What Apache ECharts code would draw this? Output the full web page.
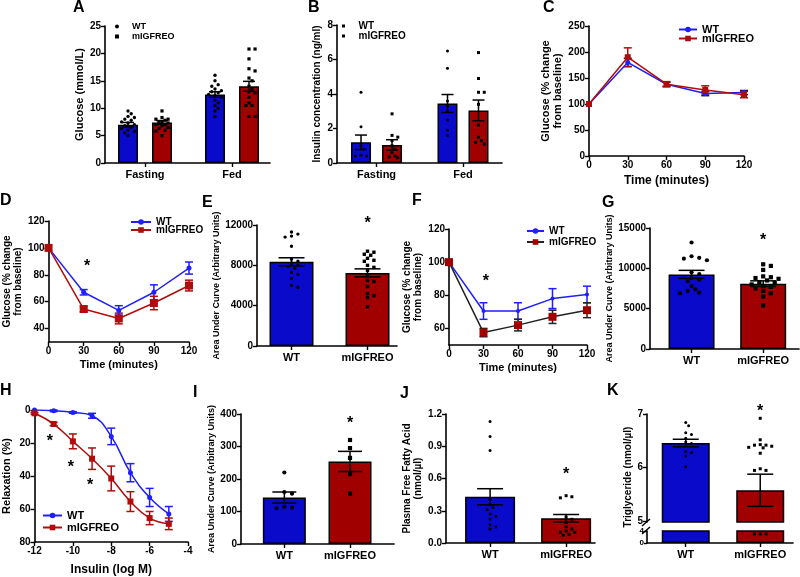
<!DOCTYPE html>
<html><head><meta charset="utf-8">
<script src="https://cdn.jsdelivr.net/npm/echarts@6/dist/echarts.min.js"></script>
<style>html,body{margin:0;padding:0;background:#fff}#c{width:800px;height:577px}</style>
</head><body><div id="c"></div><script>
// ---------------- DATA ----------------
// Panel A
const A_categories = ['Fasting', 'Fed'];
const A_wtMean = [7.0, 12.5], A_wtSem = [0.4, 0.5];
const A_miMean = [7.4, 14.0], A_miSem = [0.35, 0.9];
const A_wtFasting = [9.5, 9.0, 8.5, 8.3, 8.0, 7.8, 7.5, 7.3, 7.0, 6.8, 6.5, 6.3, 6.0, 5.8, 5.5, 5.0];
const A_miFasting = [9.5, 8.3, 8.0, 8.0, 7.8, 7.5, 7.5, 7.3, 7.0, 7.0, 6.8, 6.5, 6.3, 6.0, 5.8, 5.0];
const A_wtFed = [16.0, 15.0, 14.3, 14.0, 13.5, 13.2, 13.0, 12.8, 12.5, 12.3, 12.0, 11.5, 11.0, 10.5, 10.0, 9.5, 8.5];
const A_miFed = [20.8, 20.8, 19.0, 17.2, 16.8, 15.5, 15.0, 14.0, 13.5, 13.0, 12.8, 12.0, 11.0, 10.5, 10.5, 8.5, 8.5];
// Panel B
const B_categories = ['Fasting', 'Fed'];
const B_wtMean = [1.2, 3.45], B_wtSem = [0.42, 0.52];
const B_miMean = [1.05, 3.05], B_miSem = [0.3, 0.6];
const B_wtFasting = [4.1, 2.1, 1.0, 0.8, 0.45, 0.4, 0.4];
const B_miFasting = [2.85, 1.6, 1.5, 1.3, 1.0, 0.8, 0.6, 0.4, 0.35, 0.3];
const B_wtFed = [6.5, 5.5, 3.6, 3.3, 3.0, 2.5, 1.9, 1.6];
const B_miFed = [6.4, 4.9, 4.1, 4.1, 3.4, 2.2, 1.5, 1.3, 1.2, 1.1];
// Panel C
const C_time = [0, 30, 60, 90, 120];
const C_wt = [100, 180, 138, 120, 122], C_wtErr = [0, 8, 4, 4, 4];
const C_mi = [100, 190, 138, 127, 118], C_miErr = [0, 18, 5, 8, 6];
// Panel D
const D_time = [0, 30, 60, 90, 120];
const D_wt = [100, 67, 53.5, 67, 85], D_wtErr = [0, 2, 3.5, 5.5, 4.5];
const D_mi = [100, 54.5, 47.5, 59, 72], D_miErr = [0, 2, 4, 5, 4];
const D_stars = [[33, 86]];
const D_yTicks = [40, 60, 80, 100, 120];
// Panel E
const E_categories = ['WT', 'mIGFREO'];
const E_mean = [8350, 7250], E_sem = [400, 400];
const E_wt = [11300, 11100, 10900, 10800, 9900, 8600, 8400, 8200, 8000, 7900, 7700, 7300, 7100, 6700, 6000, 5800];
const E_mi = [9400, 9300, 9100, 9000, 8700, 8500, 8400, 8000, 7800, 7500, 7000, 6500, 6400, 5900, 5200, 5000, 4800, 3900];
const E_stars = [[1, 12150]];
// Panel F
const F_time = [0, 30, 60, 90, 120];
const F_wt = [100, 70.5, 70.5, 78, 80.5], F_wtErr = [0, 5, 5, 6, 5];
const F_mi = [100, 57.5, 62, 67, 71], F_miErr = [0, 2.5, 3.5, 4, 4.5];
const F_stars = [[32, 88]];
const F_yTicks = [60, 80, 100, 120];
// Panel G
const G_categories = ['WT', 'mIGFREO'];
const G_mean = [9250, 8100], G_sem = [500, 350];
const G_wt = [13200, 11500, 11300, 11200, 11000, 9500, 9300, 8800, 8600, 8400, 7800, 7400, 7200, 7000, 6900];
const G_mi = [10500, 10300, 9800, 9000, 8900, 8800, 8700, 8500, 8300, 8200, 8000, 7800, 7700, 7500, 7200, 6900, 6500, 5400];
const G_stars = [[1, 13500]];
// Panel H
const H_dose = [-12, -11, -10, -9, -8, -7, -6, -5];
const H_wt = [0, 0.5, 1.5, 3.5, 16, 38, 53, 63], H_wtErr = [0, 0.5, 0.5, 1.5, 5, 5.5, 5.5, 4.5];
const H_mi = [2, 8.5, 19, 29.5, 41.5, 55.5, 65.5, 69], H_miErr = [0.5, 1, 4.5, 6.5, 7.5, 6, 4, 3.5];
const H_stars = [[-11.2, 19], [-10.1, 35], [-9.1, 46]];
// Panel I
const I_categories = ['WT', 'mIGFREO'];
const I_mean = [143, 254], I_sem = [17, 31];
const I_wt = [220, 160, 155, 115, 112, 110];
const I_mi = [320, 295, 265, 215, 155];
const I_stars = [[1, 372]];
// Panel J
const J_categories = ['WT', 'mIGFREO'];
const J_mean = [0.43, 0.23], J_sem = [0.075, 0.035];
const J_wt = [1.13, 0.99, 0.86, 0.41, 0.36, 0.33, 0.31, 0.27, 0.25, 0.22, 0.17, 0.15, 0.13];
const J_mi = [0.44, 0.43, 0.42, 0.24, 0.22, 0.19, 0.15, 0.13, 0.11, 0.10, 0.10, 0.08, 0.07];
const J_stars = [[1, 0.64]];
// Panel K
const K_categories = ['WT', 'mIGFREO'];
const K_mean = [6.46, 5.58], K_sem = [0.07, 0.3];
const K_wt = [6.84, 6.78, 6.65, 6.62, 6.55, 6.48, 6.45, 6.3, 6.28, 6.22, 6.02];
const K_mi = [6.92, 6.52, 6.43, 6.42, 6.42, 6.4, 6.38, 6.37, 6.27, 5.98, 5.95, 5.95, 3.0, 3.0, 3.0];
const K_stars = [[1, 7.05]];
const K_upperTicks = [5, 6, 7], K_lowerTicks = [0, 2, 4];

// ---------------- HELPERS ----------------
const FONT = "'Liberation Sans', Arial, Helvetica, sans-serif";
const BLUE = '#0a0acb', RED = '#a00000', LBLUE = '#1e1eff', LRED = '#b00c0c';
const SQUARE = 'path://M0,0L10,0L10,10L0,10Z';
const DOT = 'path://M5,0A5,5,0,1,1,4.99,0Z';
function isObj(o) { return o && typeof o === 'object' && !Array.isArray(o); }
function merge() {
  const out = {};
  for (const src of arguments) {
    if (!src) continue;
    for (const k in src) {
      if (isObj(src[k])) out[k] = merge(isObj(out[k]) ? out[k] : {}, src[k]);
      else out[k] = src[k];
    }
  }
  return out;
}
const grids = [], xAxes = [], yAxes = [], series = [], legends = [], graphics = [];
function axisBase() {
  return {
    type: 'value',
    axisLine: { show: true, onZero: false, lineStyle: { color: '#000', width: 1.6 } },
    axisTick: { show: true, length: 4, lineStyle: { color: '#000', width: 1.4 } },
    axisLabel: { color: '#000', fontFamily: FONT, fontWeight: 'bold', fontSize: 10, margin: 4,
      showMinLabel: true, showMaxLabel: true, hideOverlap: false, formatter: v => String(v) },
    splitLine: { show: false },
    nameTextStyle: { color: '#000', fontFamily: FONT, fontWeight: 'bold', fontSize: 11 }
  };
}
function addGrid(r, xa, ya) {
  const i = grids.length;
  grids.push({ left: r[0], top: r[1], width: r[2], height: r[3] });
  xAxes.push(merge(axisBase(), xa, { gridIndex: i }));
  yAxes.push(merge(axisBase(), ya, { gridIndex: i }));
  return i;
}
function catX(cats, min, max, fs) {
  const idx = cats.map((c, k) => k);
  return { min: min, max: max,
    axisLabel: { customValues: idx, formatter: v => cats[Math.round(v)] || '', fontSize: fs || 11, margin: 6 },
    axisTick: { customValues: idx } };
}
function swarm(ys, d, maxS) {
  const n = ys.length;
  const order = ys.map((_, i) => i).sort((a, b) => (ys[a] - ys[b]) || (a - b));
  const off = new Array(n).fill(0), done = [];
  const step = d * 0.8;
  for (const i of order) {
    let best = 0, bestScore = -1;
    for (let k = 0; k < 60; k++) {
      const o = (k === 0) ? 0 : ((k % 2) ? 1 : -1) * Math.ceil(k / 2) * step;
      if (Math.abs(o) > maxS) continue;
      let minD = Infinity;
      for (const j of done) {
        const dx = o - off[j], dy = ys[i] - ys[j];
        minD = Math.min(minD, Math.sqrt(dx * dx + dy * dy));
      }
      if (minD >= d) { best = o; bestScore = Infinity; break; }
      if (minD > bestScore) { bestScore = minD; best = o; }
    }
    off[i] = best; done.push(i);
  }
  return off;
}
function dots(gi, x, vals, offPx, shape, size, maxS, name) {
  return {
    type: 'custom', name: name, xAxisIndex: gi, yAxisIndex: gi, clip: false, silent: true, z: 6,
    itemStyle: { color: '#000' },
    data: vals.map(v => [x, v]),
    renderItem: (p, api) => {
      const ys = vals.map(v => api.coord([x, v])[1]);
      const offs = swarm(ys, size + 0.6, maxS);
      const c = api.coord([x, vals[p.dataIndex]]);
      const cx = c[0] + offPx + offs[p.dataIndex], cy = c[1];
      if (shape === 'circle') return { type: 'circle', shape: { cx: cx, cy: cy, r: size / 2 }, style: { fill: '#000' } };
      return { type: 'rect', shape: { x: cx - size / 2, y: cy - size / 2, width: size, height: size }, style: { fill: '#000' } };
    }
  };
}
function errs(gi, xs, means, sems, offPx, capHalf, color, lw, z) {
  return {
    type: 'custom', xAxisIndex: gi, yAxisIndex: gi, clip: false, silent: true, z: z || 5,
    data: xs.map((x, k) => [x, means[k], sems[k]]),
    renderItem: (p, api) => {
      const x = api.value(0), m = api.value(1), e = api.value(2);
      if (!e) return null;
      const t = api.coord([x, m + e]), b = api.coord([x, m - e]);
      const cx = t[0] + offPx;
      const st = () => ({ stroke: color, lineWidth: lw });
      return { type: 'group', children: [
        { type: 'line', shape: { x1: cx, y1: t[1], x2: cx, y2: b[1] }, style: st() },
        { type: 'line', shape: { x1: cx - capHalf, y1: t[1], x2: cx + capHalf, y2: t[1] }, style: st() },
        { type: 'line', shape: { x1: cx - capHalf, y1: b[1], x2: cx + capHalf, y2: b[1] }, style: st() }
      ] };
    }
  };
}
function stars(gi, pts, size) {
  return {
    type: 'custom', xAxisIndex: gi, yAxisIndex: gi, clip: false, silent: true, z: 7,
    data: pts,
    renderItem: (p, api) => {
      const c = api.coord([api.value(0), api.value(1)]);
      return { type: 'text', x: c[0], y: c[1],
        style: { text: '*', font: 'bold ' + size + 'px ' + FONT, fill: '#000', align: 'center', verticalAlign: 'middle' } };
    }
  };
}
function line(gi, name, xs, ys, color, lineColor, symbol, size, smooth) {
  return {
    type: 'line', name: name, xAxisIndex: gi, yAxisIndex: gi, z: 4,
    data: xs.map((x, k) => [x, ys[k]]),
    symbol: symbol, symbolSize: size, showSymbol: true, smooth: smooth || false,
    lineStyle: { color: lineColor || color, width: 1.5 },
    itemStyle: { color: color }
  };
}
function singleBars(gi, means, width) {
  return {
    type: 'bar', xAxisIndex: gi, yAxisIndex: gi, barWidth: width, z: 2,
    data: means.map((m, k) => ({ value: [k, m], itemStyle: { color: k === 0 ? BLUE : RED } })),
    itemStyle: { borderColor: '#000', borderWidth: 1.5 }
  };
}
function addLegend(items, opts) {
  legends.push(merge({
    orient: 'vertical', selectedMode: false, padding: 0, itemGap: 0, symbolKeepAspect: true,
    formatter: n => n.split(':')[1],
    textStyle: { fontFamily: FONT, fontWeight: 'bold', fontSize: 11, color: '#000' }
  }, opts, { data: items }));
}
function letter(t, x, y) {
  graphics.push({ type: 'text', left: x, top: y, style: { text: t, font: 'bold 16px ' + FONT, fill: '#000' } });
}
const yName = (n, gap, fs) => ({ name: n, nameLocation: 'middle', nameGap: gap, nameTextStyle: { fontSize: fs, lineHeight: fs + 1.5 } });
const xName = (n, gap, fs) => ({ name: n, nameLocation: 'middle', nameGap: gap, nameTextStyle: { fontSize: fs } });

// ---------------- PANEL A ----------------
const gA = addGrid([105, 26, 165, 137], catX(A_categories, -0.46, 1.437, 11),
  merge({ min: 0, max: 25, interval: 5 }, yName('Glucose (mmol/L)', 19, 11)));
series.push({ type: 'bar', name: 'A:WTbar', xAxisIndex: gA, yAxisIndex: gA, barWidth: 20, barGap: '70%', z: 2,
  data: A_wtMean.map((m, k) => [k, m]), itemStyle: { color: BLUE, borderColor: '#000', borderWidth: 1.5 } });
series.push({ type: 'bar', name: 'A:MIbar', xAxisIndex: gA, yAxisIndex: gA, barWidth: 20, barGap: '70%', z: 2,
  data: A_miMean.map((m, k) => [k, m]), itemStyle: { color: RED, borderColor: '#000', borderWidth: 1.5 } });
series.push(errs(gA, [0, 1], A_wtMean, A_wtSem, -17, 6, '#000', 1.5));
series.push(errs(gA, [0, 1], A_miMean, A_miSem, 17, 6, '#000', 1.5));
series.push(dots(gA, 0, A_wtFasting, -17, 'circle', 3.4, 8, 'A:WT'));
series.push(dots(gA, 1, A_wtFed, -17, 'circle', 3.4, 8, 'A:WT'));
series.push(dots(gA, 0, A_miFasting, 17, 'rect', 3.2, 8, 'A:mIGFREO'));
series.push(dots(gA, 1, A_miFed, 17, 'rect', 3.2, 8, 'A:mIGFREO'));
addLegend([{ name: 'A:WT', icon: DOT, itemStyle: { color: '#000' } }, { name: 'A:mIGFREO', icon: SQUARE, itemStyle: { color: '#000' } }],
  { left: 115, top: 22, itemWidth: 20, itemHeight: 4, itemGap: 1, textStyle: { fontSize: 9 } });

// ---------------- PANEL B ----------------
const gB = addGrid([337, 25, 165, 138], catX(B_categories, -0.457, 1.451, 11),
  merge({ min: 0, max: 8, interval: 2 }, yName('Insulin concentration (ng/ml)', 14, 10)));
series.push({ type: 'bar', name: 'B:WTbar', xAxisIndex: gB, yAxisIndex: gB, barWidth: 20, barGap: '55%', z: 2,
  data: B_wtMean.map((m, k) => [k, m]), itemStyle: { color: BLUE, borderColor: '#000', borderWidth: 1.5 } });
series.push({ type: 'bar', name: 'B:MIbar', xAxisIndex: gB, yAxisIndex: gB, barWidth: 20, barGap: '55%', z: 2,
  data: B_miMean.map((m, k) => [k, m]), itemStyle: { color: RED, borderColor: '#000', borderWidth: 1.5 } });
series.push(errs(gB, [0, 1], B_wtMean, B_wtSem, -15.5, 6, '#000', 1.5));
series.push(errs(gB, [0, 1], B_miMean, B_miSem, 15.5, 6, '#000', 1.5));
series.push(dots(gB, 0, B_wtFasting, -15.5, 'circle', 3, 8, 'B:WT'));
series.push(dots(gB, 1, B_wtFed, -15.5, 'circle', 3, 8, 'B:WT'));
series.push(dots(gB, 0, B_miFasting, 15.5, 'rect', 3, 8, 'B:mIGFREO'));
series.push(dots(gB, 1, B_miFed, 15.5, 'rect', 3, 8, 'B:mIGFREO'));
addLegend([{ name: 'B:WT', icon: SQUARE, itemStyle: { color: '#000' } }, { name: 'B:mIGFREO', icon: SQUARE, itemStyle: { color: '#000' } }],
  { left: 342, top: 21, itemWidth: 20, itemHeight: 3, itemGap: 0, textStyle: { fontSize: 10 } });

// ---------------- PANEL C ----------------
const gC = addGrid([589, 26, 155, 130],
  merge({ min: 0, max: 120, interval: 30 }, xName('Time (minutes)', 19, 12)),
  merge({ min: 0, max: 250, interval: 50 }, yName('Glucose (% change\nfrom baseline)', 22, 11)));
series.push(errs(gC, C_time, C_wt, C_wtErr, 0, 4, '#1a1a1a', 1.5, 3));
series.push(errs(gC, C_time, C_mi, C_miErr, 0, 4, LRED, 1.5, 3));
series.push(line(gC, 'C:WT', C_time, C_wt, LBLUE, null, 'circle', 5));
series.push(line(gC, 'C:mIGFREO', C_time, C_mi, LRED, null, 'rect', 6));
addLegend(['C:WT', 'C:mIGFREO'], { left: 678, top: 24, itemWidth: 18, itemHeight: 7, itemGap: -2, textStyle: { fontSize: 11 } });

// ---------------- PANEL D ----------------
const gD = addGrid([45, 221, 144, 121],
  merge({ min: 0, max: 120, interval: 30 }, xName('Time (minutes)', 17, 11)),
  merge({ min: 30, max: 120, axisLabel: { customValues: D_yTicks }, axisTick: { customValues: D_yTicks } },
    yName('Glucose (% change\nfrom baseline)', 19, 10)));
series.push(errs(gD, D_time, D_wt, D_wtErr, 0, 4, LBLUE, 1.5, 3));
series.push(errs(gD, D_time, D_mi, D_miErr, 0, 4, LRED, 1.5, 3));
series.push(line(gD, 'D:WT', D_time, D_wt, LBLUE, null, 'circle', 5));
series.push(line(gD, 'D:mIGFREO', D_time, D_mi, LRED, null, 'rect', 8));
series.push(stars(gD, D_stars, 16));
addLegend(['D:WT', 'D:mIGFREO'], { left: 130, top: 217, itemWidth: 20, itemHeight: 7, itemGap: -2, textStyle: { fontSize: 10 } });

// ---------------- PANEL E ----------------
const gE = addGrid([257, 225, 140, 121], catX(E_categories, -0.454, 1.388, 11),
  merge({ min: 0, max: 12000, interval: 4000 }, yName('Area Under Curve (Arbitrary Units)', 31, 9)));
series.push(singleBars(gE, E_mean, 44));
series.push(errs(gE, [0, 1], E_mean, E_sem, 0, 13, '#000', 1.5));
series.push(dots(gE, 0, E_wt, 0, 'circle', 3.4, 14));
series.push(dots(gE, 1, E_mi, 0, 'rect', 3.4, 14));
series.push(stars(gE, E_stars, 16));

// ---------------- PANEL F ----------------
const gF = addGrid([449, 229, 138, 116],
  merge({ min: 0, max: 120, interval: 30 }, xName('Time (minutes)', 17, 11)),
  merge({ min: 50, max: 120, axisLabel: { customValues: F_yTicks }, axisTick: { customValues: F_yTicks } },
    yName('Glucose (% change\nfrom baseline)', 20, 10)));
series.push(errs(gF, F_time, F_wt, F_wtErr, 0, 4, LBLUE, 1.5, 3));
series.push(errs(gF, F_time, F_mi, F_miErr, 0, 4, '#222', 1.5, 3));
series.push(line(gF, 'F:WT', F_time, F_wt, LBLUE, null, 'circle', 4));
series.push(line(gF, 'F:mIGFREO', F_time, F_mi, RED, '#222', 'rect', 8));
series.push(stars(gF, F_stars, 16));
addLegend(['F:WT', 'F:mIGFREO'], { left: 526, top: 226, itemWidth: 17, itemHeight: 7, itemGap: 1, textStyle: { fontSize: 10 } });

// ---------------- PANEL G ----------------
const gG = addGrid([650, 228, 149, 121], catX(G_categories, -0.58, 1.50, 11),
  merge({ min: 0, max: 15000, interval: 5000 }, yName('Area Under Curve (Arbitrary Units)', 31, 9)));
series.push(singleBars(gG, G_mean, 46));
series.push(errs(gG, [0, 1], G_mean, G_sem, 0, 13, '#000', 1.5));
series.push(dots(gG, 0, G_wt, 0, 'circle', 4.2, 16));
series.push(dots(gG, 1, G_mi, 0, 'rect', 4.2, 16));
series.push(stars(gG, G_stars, 16));

// ---------------- PANEL H ----------------
const gH = addGrid([33, 410, 155, 132],
  merge({ min: -12, max: -4, interval: 2 }, xName('Insulin (log M)', 22, 12)),
  merge({ min: 0, max: 80, interval: 20, inverse: true }, yName('Relaxation (%)', 21, 11)));
series.push(errs(gH, H_dose, H_wt, H_wtErr, 0, 4, LBLUE, 1.5, 3));
series.push(errs(gH, H_dose, H_mi, H_miErr, 0, 4, LRED, 1.5, 3));
series.push(line(gH, 'H:WT', H_dose, H_wt, LBLUE, null, 'circle', 5, 0.45));
series.push(line(gH, 'H:mIGFREO', H_dose, H_mi, LRED, null, 'rect', 6, 0.45));
series.push(stars(gH, H_stars, 16));
addLegend(['H:WT', 'H:mIGFREO'], { left: 42, top: 510, itemWidth: 19, itemHeight: 7, itemGap: 1, textStyle: { fontSize: 11 } });

// ---------------- PANEL I ----------------
const gI = addGrid([241, 414, 153, 130], catX(I_categories, -0.66, 1.67, 11),
  merge({ min: 0, max: 400, interval: 100 }, yName('Area Under Curve (Arbitrary Units)', 20, 9)));
series.push(singleBars(gI, I_mean, 43));
series.push(errs(gI, [0, 1], I_mean, I_sem, 0, 12, '#000', 1.5));
series.push(dots(gI, 0, I_wt, 0, 'circle', 4.2, 12));
series.push(dots(gI, 1, I_mi, 0, 'rect', 4.2, 12));
series.push(stars(gI, I_stars, 16));

// ---------------- PANEL J ----------------
const gJ = addGrid([446, 414, 149, 129], catX(J_categories, -0.58, 1.38, 11),
  merge({ min: 0, max: 1.2, interval: 0.3, axisLabel: { formatter: v => v.toFixed(1) } },
    yName('Plasma Free Fatty Acid\n(nmol/\u00b5l)', 17, 10)));
series.push(singleBars(gJ, J_mean, 50));
series.push(errs(gJ, [0, 1], J_mean, J_sem, 0, 13, '#000', 1.5));
series.push(dots(gJ, 0, J_wt, 0, 'circle', 3, 13));
series.push(dots(gJ, 1, J_mi, 0, 'rect', 3, 13));
series.push(stars(gJ, J_stars, 16));

// ---------------- PANEL K (broken axis) ----------------
const K_upperDots = [K_wt.filter(v => v >= 5), K_mi.filter(v => v >= 5)];
const K_lowerDots = [K_wt.filter(v => v < 5), K_mi.filter(v => v < 5)];
const gK = addGrid([647, 414, 146, 108],
  { min: -0.52, max: 1.44, show: false, axisLine: { show: false }, axisTick: { show: false }, axisLabel: { show: false } },
  { min: 4.99, max: 7, axisLabel: { customValues: K_upperTicks, lineHeight: 8 }, axisTick: { customValues: K_upperTicks } });
const gK2 = addGrid([647, 531, 146, 12], catX(K_categories, -0.52, 1.44, 11),
  { min: -0.01, max: 4.01, axisLabel: { customValues: K_lowerTicks, fontSize: 8, lineHeight: 5, margin: 3 },
    axisTick: { customValues: K_lowerTicks, length: 3 } });
series.push(singleBars(gK, K_mean, 48));
series.push(singleBars(gK2, K_mean, 48));
series.push(errs(gK, [0, 1], K_mean, K_sem, 0, 13, '#000', 1.5));
series.push(dots(gK, 0, K_upperDots[0], 0, 'circle', 3, 13));
series.push(dots(gK, 1, K_upperDots[1], 0, 'rect', 3, 13));
series.push(dots(gK2, 1, K_lowerDots[1], 0, 'rect', 3, 13));
series.push(stars(gK, K_stars, 16));
graphics.push({ type: 'text', x: 628, y: 477, rotation: Math.PI / 2,
  style: { text: 'Triglyceride (nmol/\u00b5l)', font: 'bold 10px ' + FONT, fill: '#000', align: 'center', verticalAlign: 'middle' } });
graphics.push({ type: 'line', shape: { x1: 642, y1: 526, x2: 650, y2: 519 }, style: { stroke: '#000', lineWidth: 1.4 } });
graphics.push({ type: 'line', shape: { x1: 642, y1: 534, x2: 650, y2: 527 }, style: { stroke: '#000', lineWidth: 1.4 } });

// ---------------- LETTERS ----------------
letter('A', 73, 0); letter('B', 308, 0); letter('C', 543, 0);
letter('D', 0, 193); letter('E', 202, 195); letter('F', 412, 193); letter('G', 602, 195);
letter('H', 0, 383); letter('I', 193, 385); letter('J', 400, 386); letter('K', 607, 383);

const chart = echarts.init(document.getElementById('c'), null, { renderer: 'canvas', width: 800, height: 577 });
chart.setOption({
  animation: false,
  backgroundColor: '#fff',
  textStyle: { fontFamily: FONT },
  grid: grids, xAxis: xAxes, yAxis: yAxes, series: series, legend: legends, graphic: graphics
});
</script></body></html>
